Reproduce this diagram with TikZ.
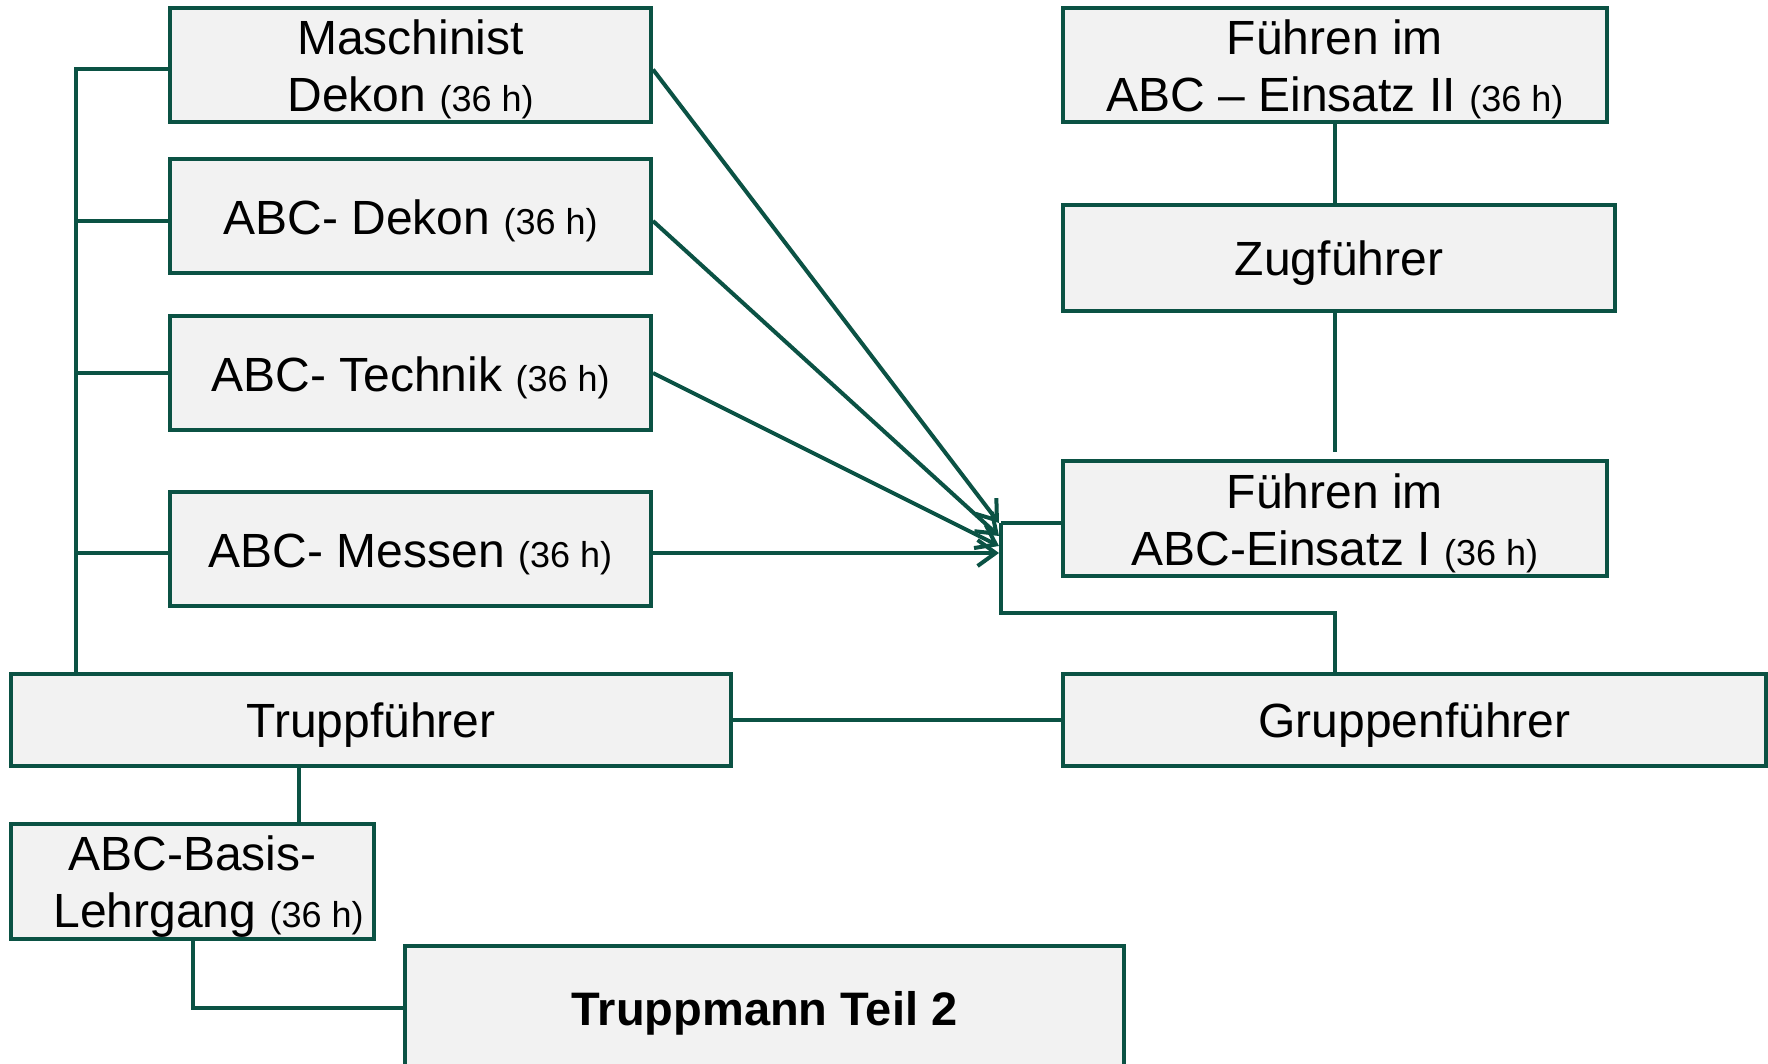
\documentclass[tikz,border=0pt]{standalone}
\usepackage{fontspec}
\setmainfont{Liberation Sans}
\usetikzlibrary{arrows.meta}
\definecolor{dgreen}{HTML}{0B5244}
\definecolor{boxfill}{HTML}{F2F2F2}
\newcommand{\hrs}[1]{{\fontsize{18}{28}\selectfont #1}}
\newcommand{\st}{\rule{0pt}{22pt}}
\tikzset{
  kbox/.style={draw=dgreen, line width=2pt, fill=boxfill, align=center, inner sep=0pt,
    font=\fontsize{24}{28.5}\selectfont, text=black},
  conn/.style={draw=dgreen, line width=2pt},
  arr/.style={conn, -{Straight Barb[length=9pt,width=13pt,line width=2pt]}}
}
\begin{document}
\begin{tikzpicture}[x=0.5pt,y=-0.5pt]
\useasboundingbox (0,0) rectangle (1768,1064);
% left column
\node[kbox, minimum width=240.5pt, minimum height=57pt] (M) at (410.5,65) {\st Maschinist\\Dekon \hrs{(36 h)}};
\node[kbox, minimum width=240.5pt, minimum height=57pt] (D) at (410.5,216) {\st ABC- Dekon \hrs{(36 h)}};
\node[kbox, minimum width=240.5pt, minimum height=57pt] (Te) at (410.5,373) {\st ABC- Technik \hrs{(36 h)}};
\node[kbox, minimum width=240.5pt, minimum height=57pt] (Me) at (410.5,549) {\st ABC- Messen \hrs{(36 h)}};
\node[kbox, minimum width=360pt, minimum height=46pt] (T) at (371,720) {\st Truppführer};
\node[kbox, minimum width=181.5pt, minimum height=57.5pt] (B) at (192.5,881.5) {\st ABC-Basis-\\\hspace*{16pt}Lehrgang \hrs{(36 h)}};
\node[kbox, minimum width=359.5pt, minimum height=62pt, font=\fontsize{23.5}{28}\selectfont\bfseries] (TM) at (764.5,1008) {\st Truppmann Teil 2};
% right column
\node[kbox, minimum width=272pt, minimum height=57pt] (F2) at (1335,65) {\st Führen im\\ABC – Einsatz II \hrs{(36 h)}};
\node[kbox, minimum width=276pt, minimum height=53pt] (Z) at (1339,258) {\st Zugführer};
\node[kbox, minimum width=272pt, minimum height=57.5pt] (F1) at (1335,518.5) {\st Führen im\\ABC-Einsatz I \hrs{(36 h)}};
\node[kbox, minimum width=351.5pt, minimum height=46pt] (G) at (1414.5,720) {\st Gruppenführer};
% coordinates
\coordinate (bt) at (76,674);
\coordinate (j) at (1001,523);
\coordinate (k) at (1335,613);
\coordinate (tb) at (299,0);
\coordinate (a1) at (999,523);
\coordinate (a2) at (999,536);
\coordinate (a3) at (999,546);
\coordinate (a4) at (999,553);
% left bus
\draw[conn] ([yshift=-2.25pt]M.west) -| (bt);
\draw[conn] ([yshift=-2.5pt]D.west) -- ([yshift=-2.5pt]D.west -| bt);
\draw[conn] (Te.west) -- (Te.west -| bt);
\draw[conn] ([yshift=-2pt]Me.west) -- ([yshift=-2pt]Me.west -| bt);
% arrows
\draw[arr] ([yshift=-2.25pt]M.east) -- (a1);
\draw[arr] ([yshift=-2.5pt]D.east) -- (a2);
\draw[arr] (Te.east) -- (a3);
\draw[arr] ([yshift=-2pt]Me.east) -- (a4);
% junction
\draw[conn] (j) -- (j -| F1.west);
\draw[conn] (j) |- (k) -- (k |- G.north);
% right column links
\draw[conn] (F2.south) -- (F2.south |- Z.north);
\draw[conn, shorten >=3.5pt] (F2.south |- Z.south) -- (F1.north);
% bottom links
\draw[conn] (T.east) -- (G.west);
\draw[conn] (T.south -| tb) -- (B.north -| tb);
\draw[conn] (B.south) |- (TM.west);
\end{tikzpicture}
\end{document}
